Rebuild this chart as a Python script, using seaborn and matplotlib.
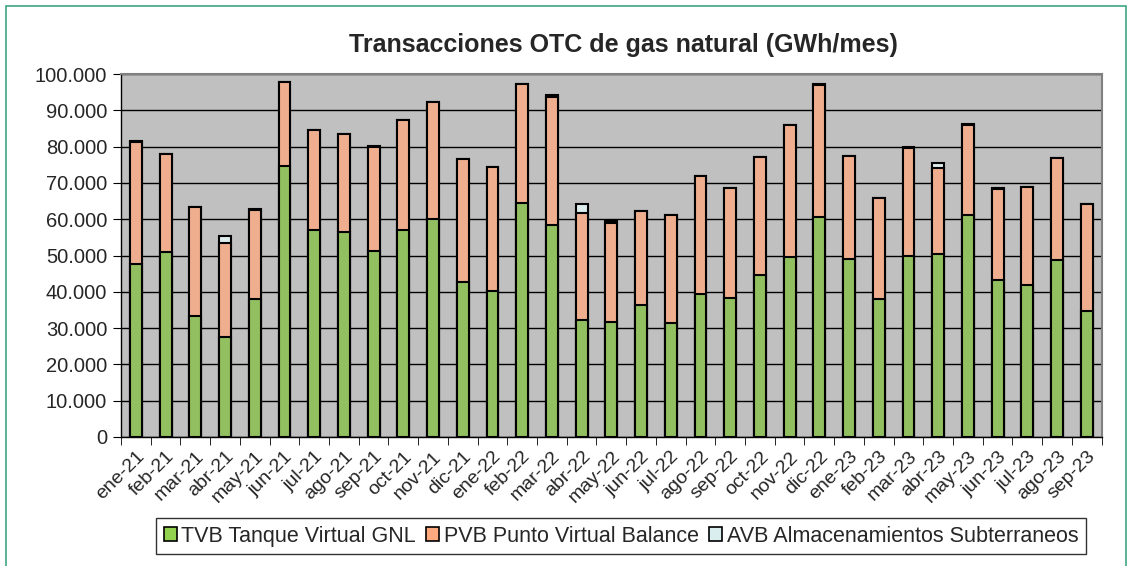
import matplotlib
matplotlib.use('Agg')
import matplotlib.pyplot as plt
import numpy as np
import pandas as pd
import seaborn as sns
from matplotlib.patches import Patch, Rectangle
from matplotlib.ticker import FuncFormatter, MultipleLocator

# Datos (GWh/mes)
meses = ['ene-21', 'feb-21', 'mar-21', 'abr-21', 'may-21', 'jun-21', 'jul-21', 'ago-21',
         'sep-21', 'oct-21', 'nov-21', 'dic-21', 'ene-22', 'feb-22', 'mar-22', 'abr-22',
         'may-22', 'jun-22', 'jul-22', 'ago-22', 'sep-22', 'oct-22', 'nov-22', 'dic-22',
         'ene-23', 'feb-23', 'mar-23', 'abr-23', 'may-23', 'jun-23', 'jul-23', 'ago-23',
         'sep-23']
tvb = [47800, 51000, 33400, 27600, 38100, 74800, 57000, 56500,
       51200, 57000, 60200, 42700, 40300, 64400, 58500, 32200,
       31800, 36400, 31400, 39300, 38300, 44600, 49700, 60500,
       49000, 37900, 49900, 50400, 61200, 43300, 41800, 48900,
       34600]
pvb = [33400, 27000, 30000, 25900, 24400, 23100, 27500, 27000,
       28600, 30300, 32000, 33800, 34200, 32800, 35300, 29600,
       27200, 26000, 29700, 32600, 30200, 32700, 36200, 36500,
       28500, 27900, 29700, 23600, 24700, 25000, 27200, 27900,
       29600]
avb = [300, 0, 0, 2000, 300, 0, 0, 0,
       300, 0, 0, 0, 0, 0, 500, 2500,
       500, 0, 0, 0, 0, 0, 0, 300,
       0, 0, 400, 1400, 300, 400, 0, 0,
       0]

etiquetas = ['TVB Tanque Virtual GNL', 'PVB Punto Virtual Balance',
             'AVB Almacenamientos Subterraneos']
colores = ['#92D050', '#FFA97F', '#DAEEF0']

df = pd.DataFrame({'Mes': meses, 'TVB': tvb, 'PVB': pvb, 'AVB': avb})
df['nivel1'] = df['TVB']
df['nivel2'] = df['TVB'] + df['PVB']
df['nivel3'] = df['nivel2'] + df['AVB']

sns.set_style('white')
plt.rcParams['font.family'] = ['Liberation Sans', 'DejaVu Sans']

fig = plt.figure(figsize=(11.31, 5.66), dpi=100)
ax = fig.add_axes([0.107, 0.228, 0.867, 0.641])
ax.set_facecolor('#C0C0C0')

# Barras apiladas: se dibuja primero el total y encima los niveles inferiores
for col, color in zip(['nivel3', 'nivel2', 'nivel1'], colores[::-1]):
    sns.barplot(data=df, x='Mes', y=col, color=color, width=0.4,
                edgecolor='black', linewidth=1.5, ax=ax, zorder=3)

ax.set_ylim(0, 100000)
ax.set_xlim(-0.5, len(meses) - 0.5)
ax.yaxis.set_major_locator(MultipleLocator(10000))
ax.yaxis.set_major_formatter(FuncFormatter(lambda v, p: f'{v:,.0f}'.replace(',', '.')))
ax.grid(True, axis='y', color='black', linewidth=1, zorder=0)
ax.set_axisbelow(True)
ax.set_xlabel('')
ax.set_ylabel('')

# ticks del eje x entre categorias
ax.set_xticks(np.arange(len(meses)))
ax.set_xticklabels(meses, rotation=45, ha='right', rotation_mode='anchor', fontsize=14)
ax.tick_params(axis='x', length=0, pad=8)
ax.set_xticks(np.arange(len(meses) + 1) - 0.5, minor=True)
ax.tick_params(axis='x', which='minor', length=6, color='black', direction='out', bottom=True)
ax.tick_params(axis='y', length=6, color='black', direction='out', left=True, labelsize=14.5, pad=4)

for s in ['top', 'right']:
    ax.spines[s].set_color('#808080')
    ax.spines[s].set_linewidth(1.5)
for s in ['left', 'bottom']:
    ax.spines[s].set_color('black')
    ax.spines[s].set_linewidth(1)

fig.text(0.551, 0.92, 'Transacciones OTC de gas natural (GWh/mes)', ha='center', va='center',
         fontsize=18, fontweight='bold')

handles = [Patch(facecolor=c, edgecolor='black', linewidth=1.2) for c in colores]
leg = fig.legend(handles, etiquetas, loc='center', bbox_to_anchor=(0.549, 0.053), ncol=3,
                 fontsize=15.5, frameon=True, fancybox=False, handlelength=0.6,
                 handleheight=0.6, handletextpad=0.2, columnspacing=0.5,
                 borderpad=0.35, borderaxespad=0)
leg.get_frame().set_edgecolor('black')
leg.get_frame().set_linewidth(1)

# marco exterior
fig.patches.append(Rectangle((6 / 1131, -0.01), 1120 / 1131, 1 - 6 / 566 + 0.01,
                             transform=fig.transFigure, fill=False,
                             edgecolor='#3FA582', linewidth=1.2))

fig.savefig('out.png', dpi=100)
